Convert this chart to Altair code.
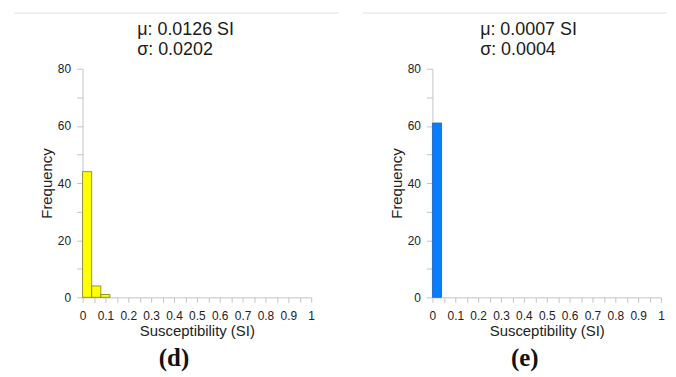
import altair as alt
import pandas as pd

# ---- data ----
panel_ids = ["d", "e"]
mu_texts = ["μ: 0.0126 SI", "μ: 0.0007 SI"]
sigma_texts = ["σ: 0.0202", "σ: 0.0004"]
letter_texts = ["(d)", "(e)"]

d_bin_start = [0.00, 0.04, 0.08]
d_bin_end = [0.04, 0.08, 0.12]
d_counts = [44, 4, 1]

e_bin_start = [0.00]
e_bin_end = [0.04]
e_counts = [61]

x_tick_values = [round(i * 0.05, 2) for i in range(21)]
y_tick_values = [0, 10, 20, 30, 40, 50, 60, 70, 80]

fills = ["#ffff00", "#0a7cff"]
strokes = ["#7a7a30", "#1a5fc0"]

FONT = "Liberation Sans"
AXIS_GRAY = "#c4c4c4"


def panel(starts, ends, counts, mu, sigma, letter, fill, stroke, left_rule, right_rule, title_x, letter_x):
    df = pd.DataFrame({"start": starts, "end": ends, "count": counts})
    x_axis = alt.Axis(
        values=x_tick_values,
        labelExpr="round(datum.value*20) % 2 == 0 ? '' + round(datum.value*10)/10 : ''",
        labelOverlap=False,
        labelFlush=False,
        title="Susceptibility (SI)",
        titleFontSize=15,
        titleFontWeight="normal",
        titlePadding=2,
        tickSize=5,
        labelPadding=8,
        labelFontSize=12,
    )
    y_axis = alt.Axis(
        values=y_tick_values,
        labelExpr="datum.value % 20 == 0 ? datum.label : ''",
        title="Frequency",
        titleFontSize=15,
        titleFontWeight="normal",
        titlePadding=3,
        tickSize=6,
        labelPadding=6,
        labelFontSize=12,
    )
    bars = alt.Chart(df).mark_bar(fill=fill, stroke=stroke, strokeWidth=0.8).encode(
        x=alt.X("start:Q", scale=alt.Scale(domain=[0, 1], nice=False, zero=False), axis=x_axis),
        x2="end:Q",
        y=alt.Y("count:Q", scale=alt.Scale(domain=[0, 80], nice=False), axis=y_axis),
        y2=alt.datum(0),
    )
    ann = pd.DataFrame({"mu": [mu], "sigma": [sigma], "letter": [letter]})
    rule = alt.Chart(ann).mark_rule(color="#e2e2e2", strokeWidth=1).encode(
        x=alt.value(left_rule), x2=alt.value(right_rule), y=alt.value(-56)
    )
    t1 = alt.Chart(ann).mark_text(
        align="left", baseline="alphabetic", fontSize=18, font=FONT, color="#1a1a1a"
    ).encode(x=alt.value(title_x), y=alt.value(-33.5), text="mu:N")
    t2 = alt.Chart(ann).mark_text(
        align="left", baseline="alphabetic", fontSize=18, font=FONT, color="#1a1a1a"
    ).encode(x=alt.value(title_x), y=alt.value(-13.5), text="sigma:N")
    t3 = alt.Chart(ann).mark_text(
        align="center", baseline="alphabetic", fontSize=25, font="Liberation Serif",
        fontWeight="bold", color="#111111"
    ).encode(x=alt.value(letter_x), y=alt.value(299), text="letter:N")
    return alt.layer(rule, bars, t1, t2, t3).properties(width=230, height=230)


left = panel(d_bin_start, d_bin_end, d_counts, mu_texts[0], sigma_texts[0], letter_texts[0],
             fills[0], strokes[0], -69, 258, 55, 92)
right = panel(e_bin_start, e_bin_end, e_counts, mu_texts[1], sigma_texts[1], letter_texts[1],
              fills[1], strokes[1], -70, 236, 48, 93)

chart = alt.hconcat(left, right, spacing=22).properties(
    padding={"left": 5, "top": 3, "right": 0, "bottom": 0}
).configure_view(stroke=None).configure_axis(
    grid=False,
    domainColor=AXIS_GRAY,
    tickColor=AXIS_GRAY,
    labelColor="#222222",
    titleColor="#222222",
    labelFont=FONT,
    titleFont=FONT,
)

chart.save("out.html", embed_options={"renderer": "svg", "actions": False})
